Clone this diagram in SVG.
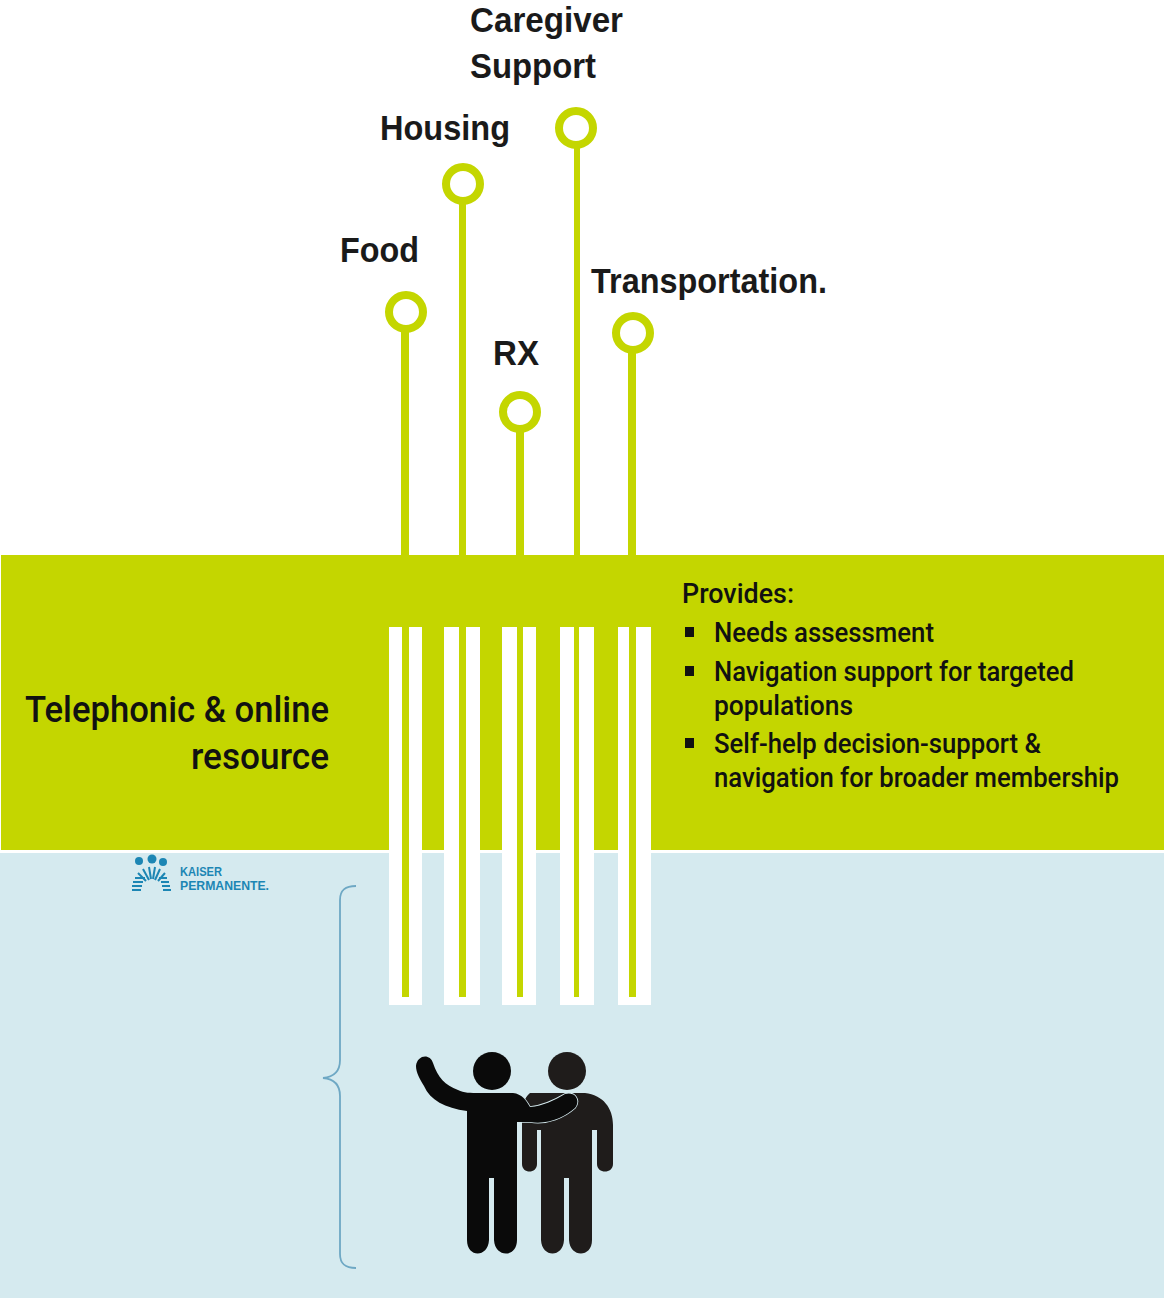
<svg xmlns="http://www.w3.org/2000/svg" width="1164" height="1298" viewBox="0 0 1164 1298">
<style>
.lbl{font-family:"Liberation Sans",Arial,sans-serif;font-weight:700;font-size:35px;fill:#1a1a1a}
.main{font-family:Roboto,"Liberation Sans",sans-serif;font-weight:500;font-size:36px;fill:#111}
.body{font-family:Roboto,"Liberation Sans",sans-serif;font-weight:500;font-size:27px;fill:#111}
.ring{fill:#fff;stroke:#c4d600;stroke-width:8}
.stem{fill:#c4d600}
.bar{fill:#fff}
.inner{fill:#c4d600}
.fig{fill:#0a0a0a}
.fig2{fill:#1f1c1b}
.ray{fill:none;stroke:#1c86b4;stroke-width:2}
</style>
<rect width="1164" height="1298" fill="#fff"/>
<g id="bands">
<rect x="1" y="555" width="1163" height="295" fill="#c4d600"/>
<rect y="853" width="1164" height="445" fill="#d5eaef"/>
</g>
<g id="connectors">
<rect class="stem" x="401" y="325" width="8" height="230"/>
<rect class="stem" x="459" y="198" width="7" height="357"/>
<rect class="stem" x="516" y="425" width="8" height="130"/>
<rect class="stem" x="574" y="142" width="6" height="413"/>
<rect class="stem" x="628" y="346" width="8" height="209"/>
<rect class="bar" x="389" y="627" width="33" height="378"/>
<rect class="bar" x="444" y="627" width="36" height="378"/>
<rect class="bar" x="502" y="627" width="34" height="378"/>
<rect class="bar" x="560" y="627" width="34" height="378"/>
<rect class="bar" x="618" y="627" width="33" height="378"/>
<rect class="inner" x="402" y="627" width="7" height="370"/>
<rect class="inner" x="459" y="627" width="7" height="370"/>
<rect class="inner" x="517" y="627" width="6" height="370"/>
<rect class="inner" x="574" y="627" width="5" height="370"/>
<rect class="inner" x="629" y="627" width="7" height="370"/>
</g>
<g id="node-food"><circle class="ring" cx="406" cy="312" r="17"/><text class="lbl" x="340" y="262" textLength="79" lengthAdjust="spacingAndGlyphs">Food</text></g>
<g id="node-housing"><circle class="ring" cx="463" cy="184" r="17"/><text class="lbl" x="380" y="140" textLength="130" lengthAdjust="spacingAndGlyphs">Housing</text></g>
<g id="node-rx"><circle class="ring" cx="520" cy="412" r="17"/><text class="lbl" x="493" y="365" textLength="46" lengthAdjust="spacingAndGlyphs">RX</text></g>
<g id="node-caregiver"><circle class="ring" cx="576" cy="128" r="17"/><text class="lbl" x="470" y="32" textLength="153" lengthAdjust="spacingAndGlyphs">Caregiver</text><text class="lbl" x="470" y="78" textLength="126" lengthAdjust="spacingAndGlyphs">Support</text></g>
<g id="node-transportation"><circle class="ring" cx="633" cy="333" r="17"/><text class="lbl" x="591" y="293" textLength="236" lengthAdjust="spacingAndGlyphs">Transportation.</text></g>
<g id="node-resource">
<text class="main" x="25" y="722" textLength="304" lengthAdjust="spacingAndGlyphs">Telephonic &amp; online</text>
<text class="main" x="191" y="769" textLength="138" lengthAdjust="spacingAndGlyphs">resource</text>
</g>
<g id="node-provides">
<text class="body" x="682" y="603" textLength="112" lengthAdjust="spacingAndGlyphs">Provides:</text>
<rect x="685" y="627" width="9" height="10" fill="#111"/>
<text class="body" x="714" y="642" textLength="220" lengthAdjust="spacingAndGlyphs">Needs assessment</text>
<rect x="685" y="666" width="9" height="10" fill="#111"/>
<text class="body" x="714" y="681" textLength="360" lengthAdjust="spacingAndGlyphs">Navigation support for targeted</text>
<text class="body" x="714" y="715" textLength="139" lengthAdjust="spacingAndGlyphs">populations</text>
<rect x="685" y="738" width="9" height="10" fill="#111"/>
<text class="body" x="714" y="753" textLength="327" lengthAdjust="spacingAndGlyphs">Self-help decision-support &amp;</text>
<text class="body" x="714" y="787" textLength="405" lengthAdjust="spacingAndGlyphs">navigation for broader membership</text>
</g>
<g id="node-logo" fill="#1c86b4">
<circle cx="139" cy="861" r="4"/><circle cx="152" cy="859" r="4.500"/><circle cx="163" cy="862" r="4"/>
<path class="ray" d="M132 890H141M132 886H142M133 882H143M135 878H145M138 873L146 881M143 869L149 880M149 867L151 879M155 867L153 879M160 869L155 880M165 873L158 881M167 878H159M169 882H161M170 886H162M171 890H163"/>
<text x="180" y="876" font-family="'Liberation Sans',sans-serif" font-size="12.500" font-weight="700" textLength="42" lengthAdjust="spacingAndGlyphs">KAISER</text>
<text x="180" y="890" font-family="'Liberation Sans',sans-serif" font-size="12.500" font-weight="700" textLength="89" lengthAdjust="spacingAndGlyphs">PERMANENTE.</text>
</g>
<g id="node-brace"><path d="M356 886C345 886 340 890 340 900V1060C340 1072 334 1077 323 1078C334 1079 340 1084 340 1096V1254C340 1264 345 1268 356 1268" fill="none" stroke="#6ea8c4" stroke-width="1.800"/></g>
<g id="node-people">
<circle class="fig2" cx="567" cy="1071" r="19"/>
<path class="fig2" d="M530 1093H585C603 1095 613 1108 613 1125V1164C613 1174 597 1174 597 1164V1130H592V1240C592 1258 570 1258 569 1240V1178H564V1240C563 1258 542 1258 541 1240V1130H537V1164C537 1174 522 1174 522 1164V1118C522 1105 524 1098 530 1093Z"/>
<circle class="fig" cx="492" cy="1071" r="19"/>
<path class="fig" d="M416 1066C417 1055 430 1053 433 1063C438 1078 445 1085 458 1090C464 1093 470 1093 480 1093H513C522 1094 526 1100 530 1107C543 1106 555 1100 565 1094C575 1091 581 1100 575 1108C565 1117 548 1125 530 1122H517V1240C517 1258 495 1258 494 1240V1178H489V1240C488 1258 467 1258 467 1240V1111C445 1108 430 1100 424 1086C420 1079 416 1073 416 1066Z" stroke="#d5eaef" stroke-width="1.500" paint-order="stroke"/>
</g>
</svg>
